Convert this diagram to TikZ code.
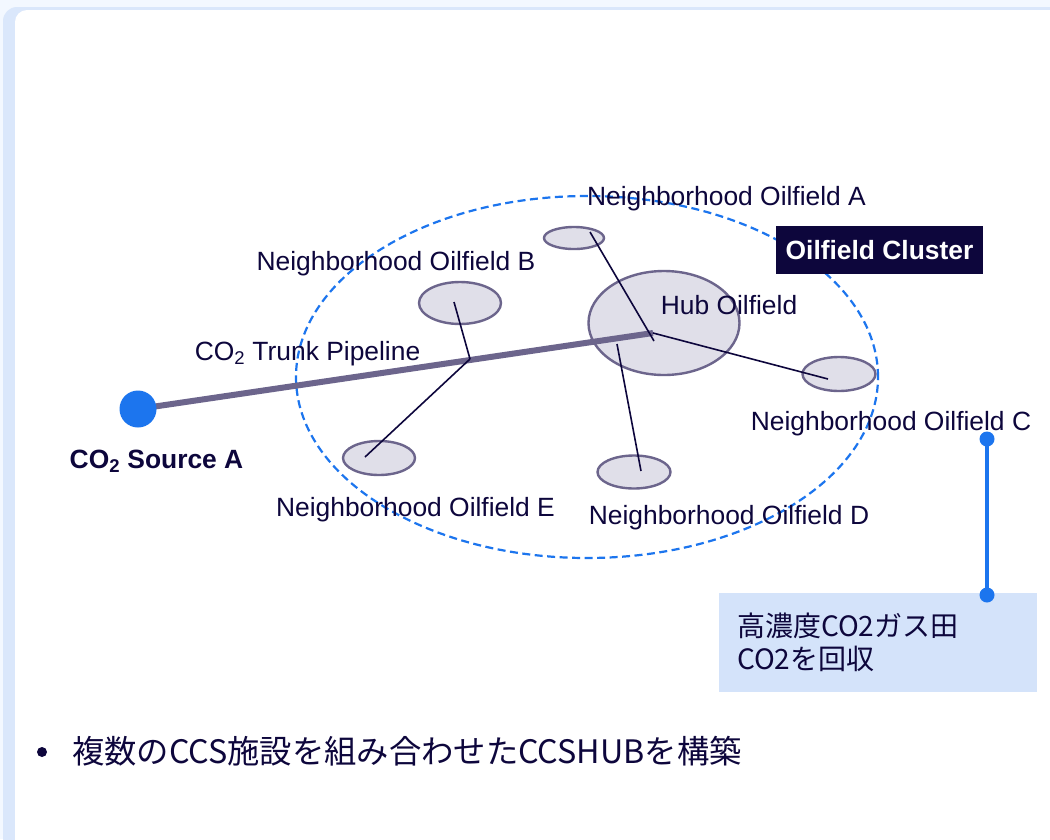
\documentclass[tikz,border=0pt]{standalone}
\usepackage{fontspec}
\setmainfont{Liberation Sans}
\newfontfamily\jpfont{Noto Sans CJK JP}
\usetikzlibrary{shapes.geometric}
\definecolor{inkblue}{RGB}{13,6,60}
\definecolor{fieldfill}{RGB}{224,223,233}
\definecolor{fieldline}{RGB}{108,101,140}
\definecolor{ccsblue}{RGB}{28,117,238}
\definecolor{notefill}{RGB}{212,227,250}
\definecolor{pagebg}{RGB}{243,248,255}
\definecolor{shadowbg}{RGB}{218,231,251}

\begin{document}
\begin{tikzpicture}[x=1pt,y=-1pt,
  field/.style={ellipse,draw=fieldline,fill=fieldfill,line width=2.4pt,inner sep=0pt},
  fieldlbl/.style={text=inkblue,font=\fontsize{26.4}{30}\selectfont,inner sep=0pt,anchor=base},
  branch/.style={draw=inkblue,line width=1.6pt},
  pinline/.style={draw=ccsblue,line width=4pt},
  pindot/.style={circle,fill=ccsblue,inner sep=0pt,minimum size=15pt}]
\useasboundingbox (0,0) rectangle (1050,839);
% 背景とカード
\fill[pagebg] (0,0) rectangle (1050,839);
\fill[shadowbg,rounded corners=14pt] (3,7) rectangle (1070,870);
\fill[white,rounded corners=12pt] (15,10) rectangle (1070,870);

% 油田クラスター（破線の楕円）
\node[ellipse,draw=ccsblue,line width=2.2pt,dash pattern=on 8pt off 4.5pt,
  minimum width=582pt,minimum height=362pt] (cluster) at (587,377) {};

% 油田
\node[field,minimum width=151pt,minimum height=104pt] (hub) at (664,323) {};
\foreach \n/\px/\py/\w/\h in {fa/574/238/60/22, fb/460/303/82/42, fc/839/374/73/34,
  fd/634/472/73/33, fe/379/458/72/34}
  \node[field,minimum width=\w pt,minimum height=\h pt] (\n) at (\px,\py) {};

% CO2 幹線パイプライン
\coordinate (srcpt) at (138,409);
\coordinate (hubpt) at (653,333);
\draw[draw=fieldline,line width=6pt] (srcpt) -- (hubpt);
\node[circle,fill=ccsblue,inner sep=0pt,minimum size=37pt] (src) at (srcpt) {};

% 支線
\coordinate (jct) at (470,359);
\coordinate (hubin) at (654,341);
\coordinate (hubdn) at (617,344);
\coordinate (fbpt) at (454,302);
\coordinate (fept) at (365,457);
\coordinate (fapt) at (590,232);
\coordinate (fcpt) at (828,379);
\coordinate (fdpt) at (641,471);
\foreach \p/\q in {jct/fbpt, jct/fept, hubin/fapt, hubpt/fcpt, hubdn/fdpt}
  \draw[branch] (\p) -- (\q);

% ラベル
\node[fieldlbl] (lbla) at (726.5,205) {Neighborhood Oilfield A};
\node[fieldlbl] (lblb) at (396,270) {Neighborhood Oilfield B};
\node[fieldlbl] (lblc) at (891,430) {Neighborhood Oilfield C};
\node[fieldlbl] (lbld) at (729,524) {Neighborhood Oilfield D};
\node[fieldlbl] (lble) at (415.5,516) {Neighborhood Oilfield E};
\node[fieldlbl] (lblhub) at (729,314) {Hub Oilfield};
\node[fieldlbl] (lbltrunk) at (307.5,360) {CO\textsubscript{2} Trunk Pipeline};
\node[fieldlbl,font=\fontsize{26.4}{30}\selectfont\bfseries] (lblsrc) at (156.5,468) {CO\textsubscript{2} Source A};
\node[fill=inkblue,text=white,font=\fontsize{26.4}{30}\selectfont\bfseries,
  minimum width=207pt,minimum height=48pt,inner sep=0pt] (tag) at (879.5,250) {Oilfield Cluster};

% 吹き出し
\node[fill=notefill,anchor=north west,minimum width=318pt,minimum height=99pt,
  inner xsep=18pt,inner ysep=0pt,align=left,text width=282pt,text=inkblue,
  font=\jpfont\fontsize{28}{33}\selectfont] (note) at (719,593)
  {高濃度CO2ガス田\\CO2を回収};
\node[pindot] (pintop) at (987,439) {};
\node[pindot] (pinfoot) at (987,595) {};
\draw[pinline] (pintop.center) -- (pinfoot.center);

% 箇条書き
\node[circle,fill=inkblue,inner sep=0pt,minimum size=10pt] (dot) at (42,752) {};
\node[anchor=base west,inner sep=0pt,text=inkblue,font=\jpfont\fontsize{32.3}{36}\selectfont]
  (bullet) at (72,763) {複数のCCS施設を組み合わせたCCSHUBを構築};
\end{tikzpicture}
\end{document}
